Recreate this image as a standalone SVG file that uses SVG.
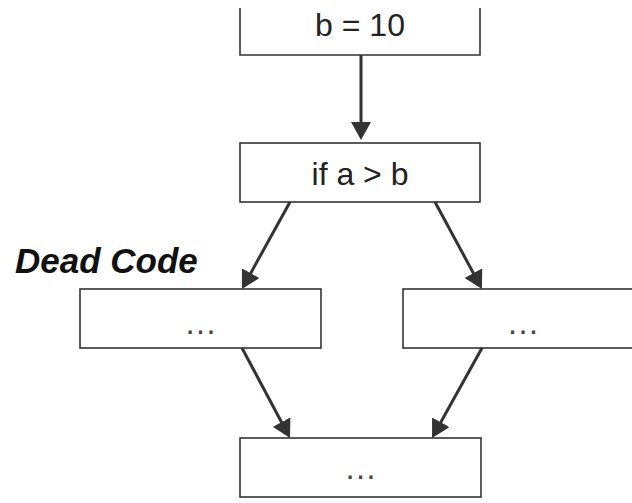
<svg xmlns="http://www.w3.org/2000/svg" width="632" height="503" viewBox="0 0 632 503">
<style>
.box{fill:#fff;stroke:#333;stroke-width:1.6}
.lbl{font-family:"Liberation Sans",Arial,sans-serif;font-size:32px;fill:#222;text-anchor:middle}
.dots{font-family:"Liberation Sans",Arial,sans-serif;font-size:33px;fill:#444;text-anchor:middle}
.edge{stroke:#333;stroke-width:3;fill:none}
</style>
<defs>
<marker id="ah" markerUnits="userSpaceOnUse" viewBox="0 0 18 20" refX="8" refY="10" markerWidth="18" markerHeight="20" orient="auto">
<path d="M0,0 L18,10 L0,20 z" fill="#333"/>
</marker>
</defs>
<rect width="632" height="503" fill="#fff"/>
<g id="node-b10">
<path class="box" d="M240,8 V55 H480 V8"/>
<text class="lbl" x="360" y="36">b = 10</text>
</g>
<g id="node-if">
<rect class="box" x="240" y="143" width="240" height="59"/>
<text class="lbl" x="360" y="185">if a &gt; b</text>
</g>
<g id="node-left">
<rect class="box" x="80" y="289" width="241" height="59"/>
<text class="dots" x="200.5" y="334">…</text>
</g>
<g id="node-right">
<rect class="box" x="403" y="289" width="241" height="59"/>
<text class="dots" x="523" y="334">…</text>
</g>
<g id="node-bottom">
<rect class="box" x="240" y="438" width="241" height="59"/>
<text class="dots" x="360.5" y="479">…</text>
</g>
<g id="label-dead">
<text x="15" y="273" font-family="'Liberation Sans',Arial,sans-serif" font-size="35" font-weight="bold" font-style="italic" fill="#111">Dead Code</text>
</g>
<g id="connectors">
<line class="edge" x1="361" y1="55" x2="361" y2="130" marker-end="url(#ah)"/>
<line class="edge" x1="290" y1="202" x2="246.8" y2="280.2" marker-end="url(#ah)"/>
<line class="edge" x1="435" y1="202" x2="477.2" y2="280.2" marker-end="url(#ah)"/>
<line class="edge" x1="242" y1="348" x2="285.3" y2="429.2" marker-end="url(#ah)"/>
<line class="edge" x1="482" y1="348" x2="436.9" y2="429.3" marker-end="url(#ah)"/>
</g>
</svg>
